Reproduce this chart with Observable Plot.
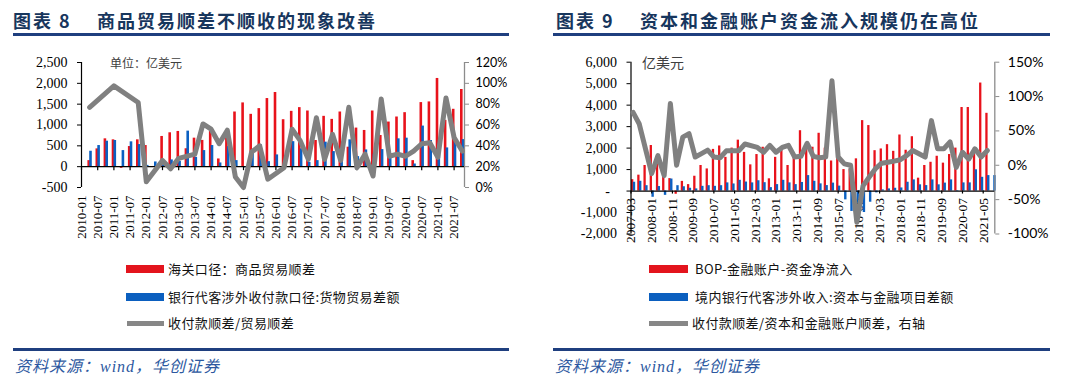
<!DOCTYPE html>
<html><head><meta charset="utf-8">
<script src="https://cdn.jsdelivr.net/npm/d3@7"></script>
<script src="https://cdn.jsdelivr.net/npm/@observablehq/plot@0.6"></script>
<style>
body{margin:0;background:#fff;width:1080px;height:389px;position:relative;overflow:hidden;font-family:"Noto Sans CJK SC",sans-serif;}
.abs{position:absolute;white-space:nowrap;}
.title{font-weight:700;color:#17365d;font-size:18px;line-height:24px;letter-spacing:2px;}
.rule{position:absolute;height:3px;background:#1f3f7f;}
.leg{position:absolute;white-space:nowrap;font-size:13px;line-height:16px;color:#111;letter-spacing:0.4px;}
.sw{position:absolute;}
.src{position:absolute;white-space:nowrap;font-style:italic;color:#2d58a0;font-size:16px;line-height:20px;letter-spacing:1px;font-family:"Liberation Serif","Noto Sans CJK SC",serif;}
.unit{position:absolute;white-space:nowrap;color:#404040;}
</style></head><body>
<div class="abs title" style="left:13px;top:8px;">图表 8</div>
<div class="abs title" style="left:97px;top:8px;">商品贸易顺差不顺收的现象改善</div>
<div class="rule" style="left:13px;top:33px;width:496px;"></div>
<div class="abs title" style="left:556px;top:8px;">图表 9</div>
<div class="abs title" style="left:640px;top:8px;">资本和金融账户资金流入规模仍在高位</div>
<div class="rule" style="left:553px;top:33px;width:497px;"></div>

<div id="c1" style="position:absolute;left:0;top:40px;"></div>
<div id="c2" style="position:absolute;left:540px;top:40px;"></div>

<div class="unit" style="left:110px;top:55px;font-size:12px;line-height:16px;">单位：亿美元</div>
<div class="unit" style="left:642px;top:53px;font-size:14px;line-height:18px;">亿美元</div>

<div class="sw" style="left:126px;top:265px;width:38px;height:8px;background:#e3141d;"></div>
<div class="leg" style="left:168px;top:261px;">海关口径：商品贸易顺差</div>
<div class="sw" style="left:126px;top:292.5px;width:38px;height:8px;background:#0b5fbf;"></div>
<div class="leg" style="left:168px;top:289px;">银行代客涉外收付款口径:货物贸易差额</div>
<div class="sw" style="left:127px;top:321px;width:37px;height:4.5px;background:#878787;"></div>
<div class="leg" style="left:168px;top:315px;">收付款顺差/贸易顺差</div>

<div class="sw" style="left:649px;top:265px;width:39px;height:8px;background:#e3141d;"></div>
<div class="leg" style="left:695px;top:261px;">BOP-金融账户-资金净流入</div>
<div class="sw" style="left:649px;top:292.5px;width:39px;height:8px;background:#0b5fbf;"></div>
<div class="leg" style="left:695px;top:289px;">境内银行代客涉外收入:资本与金融项目差额</div>
<div class="sw" style="left:649px;top:321px;width:39px;height:4.5px;background:#878787;"></div>
<div class="leg" style="left:692px;top:315px;">收付款顺差/资本和金融账户顺差，右轴</div>

<div class="rule" style="left:13px;top:347.5px;width:496px;"></div>
<div class="rule" style="left:553px;top:347.5px;width:497px;"></div>
<div class="src" style="left:15px;top:357px;">资料来源：wind，华创证券</div>
<div class="src" style="left:555px;top:357px;">资料来源：wind，华创证券</div>

<script>
// ---------- Chart 8 data (quarterly, 亿美元) ----------
const quarters1 = d3.range(2010, 2022).flatMap(y => ["03","06","09","12"].map(m => `${y}-${m}`)).slice(0, 47);
const customsSurplus = [145,427,668,644, -40,483,644,507, 5,725,813,845, 430,684,630,850, 185,850,1312,1530, 1256,1393,1635,1780, 1127,1328,1417,1336, 628,1208,1135,1312, 467,926,869,1336, 749,1071,1192,1296, 145,1538,1554,2117, 1111,1377,1852];
const bankGoodsBalance = [370,507,611,628, 386,596,531,30, 113,145,162,128, 853,225,386,507, 89,483,145,-30, 395,524,120,282, 30,600,427,105, 145,588,362,185, 644,241,402,300, 410,266,668,684, 64,974,628,550, 450,600,650];
const ratio1Pct = [77,null,null,97.6, null,null,81.6,5.5, null,26,18,28, null,32,61,56, 42,55,10,0, 34,40,8,null, 19,56,45,27, 67,27,51,26, 77,19,32,11, 85,30,32,30, 35,42,43,29, 86,48,35];
const xLabels1 = ["2010-01","2010-07","2011-01","2011-07","2012-01","2012-07","2013-01","2013-07","2014-01","2014-07","2015-01","2015-07","2016-01","2016-07","2017-01","2017-07","2018-01","2018-07","2019-01","2019-07","2020-01","2020-07","2021-01","2021-07"];
const yTicks1 = [-500,0,500,1000,1500,2000,2500];
const pctTicks1 = [0,20,40,60,80,100,120];

// ---------- Chart 9 data (quarterly, 亿美元) ----------
const quarters2 = d3.range(2007, 2022).flatMap(y => ["03","06","09","12"].map(m => `${y}-${m}`)).slice(0, 59);
const bopFinInflow = [530,740,1190,2120, 1300,900,580,-150, 450,300,690,1190, 1030,1940,2100,1570, 2000,2370,1800,1220, 1700,2040,570,1570, 1960,1190,1730,2810, 1960,2040,2690,2000, 1400,1570,1000,1000, 1500,3280,3050,1880, 1960,2160,1850,2610, 1900,2530,600,1190, 1340,1620,1300,1700, 2000,3890,3890,2000, 5030,3620,null];
const bankCapBalance = [410,455,250,-290, 210,-200,560,250, 200,130,100,220, 250,220,250,380, 330,500,420,380, 480,390,160,300, 500,380,300,400, 720,455,335,255, 370,230,-410,-950, -1370,-1000,-520,-85, 55,100,130,145, 410,520,290,255, 520,290,370,520, 23,380,380,990, 640,720,720];
const ratio2Pct = [77,60,null,-12, 14,-15,90,0, 41,46,12,17, 22,12,11,21, 21,21,31,null, 26,19,29,19, 26,29,12,13, 32,13,11,12, 123,12,2,0, -83,-30,-17,-5, 3,4.5,6,8, 14,21.5,null,12, 65,24,24,34, -3,19,9,24, 12,21.5,null];
const xLabels2 = ["2007-03","2008-01","2008-11","2009-09","2010-07","2011-05","2012-03","2013-01","2013-11","2014-09","2015-07","2016-05","2017-03","2018-01","2018-11","2019-09","2020-07","2021-05"];
const yTicks2 = [-2000,-1000,0,1000,2000,3000,4000,5000,6000];
const pctTicks2 = [-100,-50,0,50,100,150];

const RED = "#e8121b", BLUE = "#0b60c2", GRAY = "#808080", AXGRAY = "#8c8c8c";
const num = d3.format(",");
const fmtNum = d => d < 0 ? "-" + num(-d) : num(d);

// month index helpers (start of a month / end of a quarter-end month)
const ym = s => [+s.slice(0,4), +s.slice(5,7)];
const start1 = s => { const [y,m] = ym(s); return (y-2010)*12 + m - 1; };
const end1 = s => start1(s) + 1;
const start2 = s => { const [y,m] = ym(s); return (y-2007)*12 + m - 3; };
const end2 = s => start2(s) + 1;

// dual-axis mapping
const yDom1 = [-500, 2500], pDom1 = [0, 120];
const toL1 = p => yDom1[0] + (p - pDom1[0]) * (yDom1[1]-yDom1[0]) / (pDom1[1]-pDom1[0]);
const fromL1 = v => pDom1[0] + (v - yDom1[0]) * (pDom1[1]-pDom1[0]) / (yDom1[1]-yDom1[0]);
const yDom2 = [-2000, 6000], pDom2 = [-100, 150];
const toL2 = p => yDom2[0] + (p - pDom2[0]) * (yDom2[1]-yDom2[0]) / (pDom2[1]-pDom2[0]);
const fromL2 = v => pDom2[0] + (v - yDom2[0]) * (pDom2[1]-pDom2[0]) / (yDom2[1]-yDom2[0]);

const rows1 = quarters1.map((q,i) => ({x: end1(q), red: customsSurplus[i], blue: bankGoodsBalance[i], r: ratio1Pct[i]}));
const rows2 = quarters2.map((q,i) => ({x: end2(q), red: bopFinInflow[i], blue: bankCapBalance[i], r: ratio2Pct[i]}));
const xDom1 = [0, 141.85];
const xDom2 = [0, 175.6];

const serif = "Liberation Serif";
const sans = "Lato";

const chart1 = Plot.plot({
  width: 540, height: 215,
  marginLeft: 81, marginRight: 76, marginTop: 22, marginBottom: 68,
  style: {fontFamily: serif, fontSize: "14px", background: "transparent", overflow: "visible", color: "#000"},
  x: {type: "linear", domain: xDom1, axis: null, label: null},
  y: {domain: yDom1, axis: null, label: null},
  marks: [
    Plot.ruleX(rows1.filter(d => d.red != null), {x: "x", y1: 0, y2: "red", stroke: RED, strokeWidth: 2.6, dx: -0.9}),
    Plot.ruleX(rows1.filter(d => d.blue != null), {x: "x", y1: 0, y2: "blue", stroke: BLUE, strokeWidth: 2.6, dx: 0.9}),
    Plot.ruleX([xDom1[0]], {stroke: "#000", strokeWidth: 1.2}),
    Plot.ruleX([xDom1[1]], {stroke: AXGRAY, strokeWidth: 1.3}),
    Plot.ruleY([0], {stroke: "#000", strokeWidth: 1.3}),
    Plot.ruleX(xLabels1.map(start1), {y1: 0, y2: 0, insetBottom: -4, stroke: "#000", strokeWidth: 1.2}),
    Plot.line(rows1.filter(d => d.r != null), {x: "x", y: d => toL1(d.r), stroke: GRAY, strokeWidth: 5, strokeLinejoin: "round"}),
    Plot.axisY(yTicks1, {anchor: "left", label: null, tickSize: 4, tickPadding: 10, tickFormat: fmtNum, fontFamily: serif, fontSize: 14}),
    Plot.axisY(pctTicks1.map(toL1), {anchor: "right", label: null, tickSize: 4, tickPadding: 7, stroke: AXGRAY, tickFormat: d => Math.round(fromL1(d)) + "%", fontFamily: sans, fontSize: 12.5}),
    Plot.axisX(xLabels1.map(start1), {anchor: "bottom", label: null, tickSize: 0, tickPadding: 8, tickRotate: -90, tickFormat: m => `${2010 + Math.floor(m/12)}-${String(m%12+1).padStart(2,"0")}`, fontFamily: serif, fontSize: 13})
  ]
});
document.getElementById("c1").append(chart1);

const chart2 = Plot.plot({
  width: 540, height: 215,
  marginLeft: 90.5, marginRight: 85.7, marginTop: 21.7, marginBottom: 21.5,
  style: {fontFamily: serif, fontSize: "14px", background: "transparent", overflow: "visible", color: "#000"},
  x: {type: "linear", domain: xDom2, axis: null, label: null},
  y: {domain: yDom2, axis: null, label: null},
  marks: [
    Plot.ruleX(rows2.filter(d => d.red != null), {x: "x", y1: 0, y2: "red", stroke: RED, strokeWidth: 2.3, dx: -0.9}),
    Plot.ruleX(rows2.filter(d => d.blue != null), {x: "x", y1: 0, y2: "blue", stroke: BLUE, strokeWidth: 2.4, dx: 0.9}),
    Plot.ruleX([xDom2[0]], {stroke: "#000", strokeWidth: 1.2}),
    Plot.ruleX([xDom2[1]], {stroke: AXGRAY, strokeWidth: 1.3}),
    Plot.ruleY([0], {stroke: "#000", strokeWidth: 1.3}),
    Plot.ruleX(xLabels2.map(start2), {y1: 0, y2: 0, insetBottom: -3, stroke: "#000", strokeWidth: 1.2}),
    Plot.text(xLabels2, {x: start2, y: 0, text: d => d, rotate: -90, textAnchor: "end", dy: 7, fontFamily: serif, fontSize: 13.5}),
    Plot.line(rows2.filter(d => d.r != null), {x: "x", y: d => toL2(d.r), stroke: GRAY, strokeWidth: 5, strokeLinejoin: "round"}),
    Plot.axisY(yTicks2, {anchor: "left", label: null, tickSize: 4, tickPadding: 10, tickFormat: d => d === 0 ? "-\u2007" : fmtNum(d), fontFamily: serif, fontSize: 14}),
    Plot.axisY(pctTicks2.map(toL2), {anchor: "right", label: null, tickSize: 4, tickPadding: 9, stroke: AXGRAY, tickFormat: d => Math.round(fromL2(d)) + "%", fontFamily: sans, fontSize: 14})
  ]
});
document.getElementById("c2").append(chart2);
</script>
</body></html>
